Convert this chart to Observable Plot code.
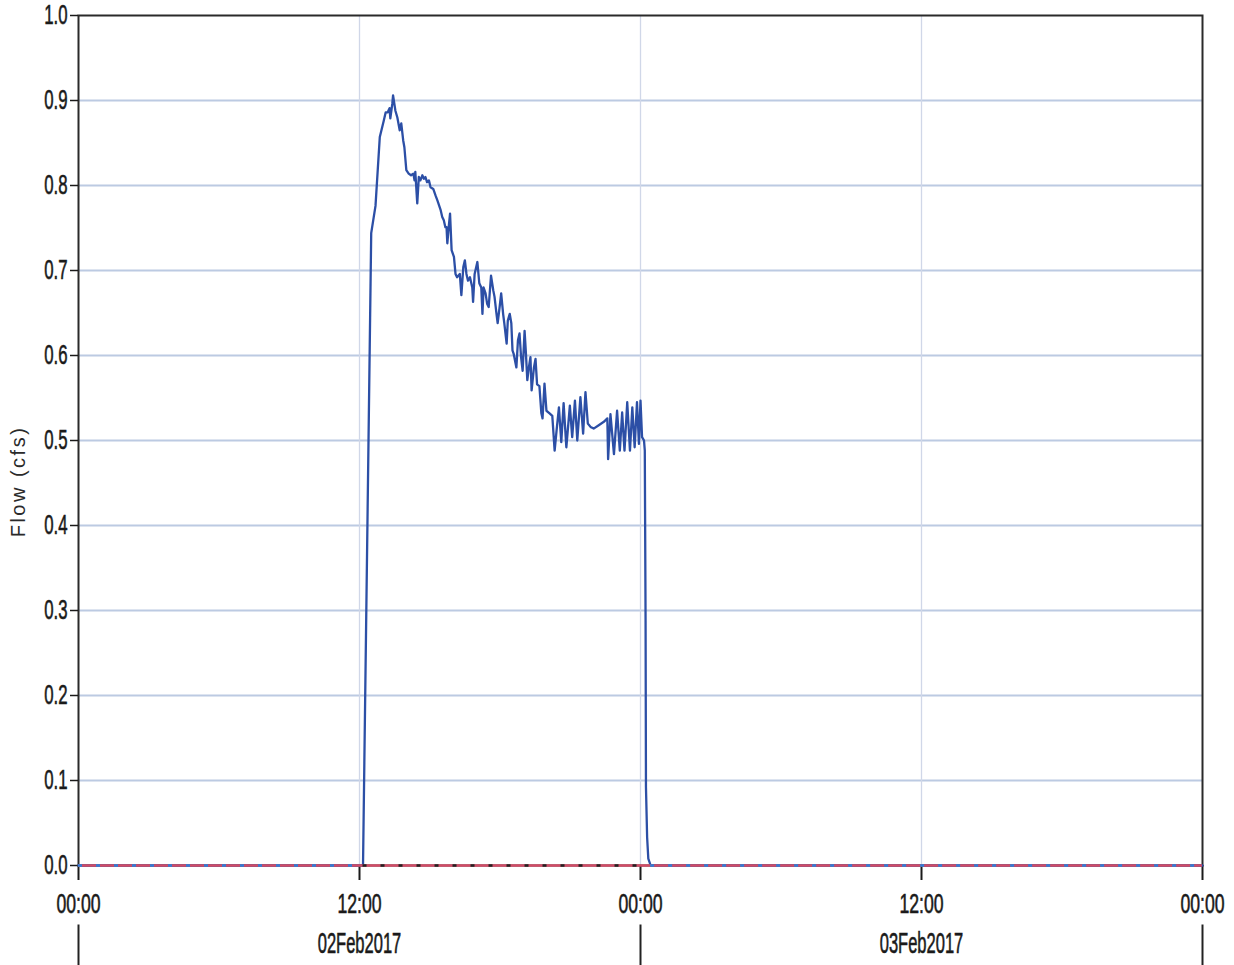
<!DOCTYPE html>
<html>
<head>
<meta charset="utf-8">
<script src="https://cdn.jsdelivr.net/npm/d3@7"></script>
<script src="https://cdn.jsdelivr.net/npm/@observablehq/plot@0.6"></script>
<style>
  body { margin: 0; background: #ffffff; }
  #chart svg { display: block; }
</style>
</head>
<body>
<div id="chart"></div>
<script>
// Time in minutes since 02Feb2017 00:00, flow in cfs
const flowMinutes = [
  0, 729, 750, 761, 772, 782, 787, 792, 797, 799,
  804, 806, 812, 817, 823, 827, 832, 835, 840, 846,
  852, 858, 861, 863, 868, 872, 876, 881, 885, 889,
  893, 898, 902, 909, 915, 920, 928, 932, 936, 940,
  943, 945, 949, 952, 956, 962, 966, 970, 977, 981,
  986, 990, 994, 998, 1003, 1009, 1011, 1015, 1022, 1027,
  1032, 1035, 1038, 1043, 1047, 1051, 1057, 1063, 1066, 1071,
  1074, 1079, 1083, 1088, 1091, 1097, 1100, 1105, 1109, 1112,
  1115, 1122, 1126, 1130, 1134, 1138, 1143, 1146, 1150, 1154,
  1158, 1161, 1167, 1171, 1175, 1181, 1186, 1189, 1194, 1199,
  1207, 1214, 1220, 1225, 1231, 1237, 1243, 1250, 1259, 1265,
  1272, 1278, 1286, 1293, 1299, 1305, 1312, 1320, 1333, 1346,
  1355, 1357, 1363, 1372, 1380, 1387, 1393, 1399, 1406, 1413,
  1419, 1425, 1431, 1436, 1440, 1444, 1449, 1451, 1453, 1454,
  1457, 1460, 1466, 2880
];
const flowValues = [
  0, 0, 0.744, 0.776, 0.857, 0.876, 0.886, 0.886, 0.891, 0.879,
  0.896, 0.906, 0.888, 0.880, 0.865, 0.873, 0.853, 0.845, 0.818, 0.814,
  0.812, 0.814, 0.806, 0.816, 0.779, 0.810, 0.806, 0.812, 0.808, 0.810,
  0.804, 0.806, 0.798, 0.796, 0.788, 0.782, 0.771, 0.763, 0.759, 0.751,
  0.751, 0.732, 0.753, 0.767, 0.724, 0.716, 0.696, 0.692, 0.696, 0.671,
  0.704, 0.712, 0.696, 0.688, 0.692, 0.680, 0.663, 0.696, 0.710, 0.685,
  0.680, 0.649, 0.680, 0.673, 0.661, 0.657, 0.694, 0.676, 0.669, 0.649,
  0.638, 0.657, 0.673, 0.649, 0.638, 0.614, 0.641, 0.649, 0.638, 0.606,
  0.602, 0.586, 0.618, 0.626, 0.598, 0.582, 0.629, 0.606, 0.571, 0.586,
  0.598, 0.559, 0.586, 0.596, 0.566, 0.564, 0.532, 0.526, 0.567, 0.535,
  0.532, 0.529, 0.488, 0.512, 0.539, 0.498, 0.544, 0.492, 0.541, 0.504,
  0.547, 0.500, 0.551, 0.508, 0.557, 0.520, 0.516, 0.514, 0.518, 0.522,
  0.526, 0.478, 0.531, 0.484, 0.535, 0.488, 0.533, 0.488, 0.545, 0.488,
  0.539, 0.492, 0.545, 0.496, 0.547, 0.504, 0.500, 0.488, 0.288, 0.092,
  0.033, 0.008, 0, 0
];

const yTicks = [0, 0.1, 0.2, 0.3, 0.4, 0.5, 0.6, 0.7, 0.8, 0.9, 1.0];
const xTickMinutes = [0, 720, 1440, 2160, 2880];
const xTickLabels = ["00:00", "12:00", "00:00", "12:00", "00:00"];
const dateMinutes = [720, 2160];
const dateLabels = ["02Feb2017", "03Feb2017"];
const dayBoundaries = [0, 1440, 2880];
const zeroSpanStart = [0, 1466];
const zeroSpanEnd = [729, 2880];
const eventSpanStart = [729];
const eventSpanEnd = [1466];
const yLabel = "Flow (cfs)";

const flow = flowMinutes.map((m, i) => ({m, v: flowValues[i]}));
const zeroSpans = zeroSpanStart.map((s, i) => ({x1: s, x2: zeroSpanEnd[i]}));
const eventSpans = eventSpanStart.map((s, i) => ({x1: s, x2: eventSpanEnd[i]}));
const dates = dateMinutes.map((m, i) => ({m, t: dateLabels[i]}));

const narrow = '"Liberation Sans Narrow", "Arial Narrow", "Liberation Sans", Arial, sans-serif';

const chart = Plot.plot({
  width: 1234,
  height: 965,
  marginLeft: 78,
  marginRight: 32,
  marginTop: 15,
  marginBottom: 100,
  style: {fontFamily: narrow, background: "#ffffff", overflow: "visible", color: "#1a1a1a"},
  x: {domain: [0, 2880]},
  y: {domain: [0, 1]},
  marks: [
    Plot.gridY(yTicks.slice(1, -1), {stroke: "#bccae2", strokeOpacity: 1, strokeWidth: 1.8}),
    Plot.gridX(xTickMinutes.slice(1, -1), {stroke: "#d0d7e8", strokeOpacity: 1, strokeWidth: 1.3}),
    Plot.frame({stroke: "#2a2a2a", strokeWidth: 2}),
    Plot.axisY(yTicks, {tickSize: 8, tickPadding: 3, strokeWidth: 1.5,
      tickFormat: d => d.toFixed(1), fontSize: 28, label: null}),
    Plot.axisX(xTickMinutes, {tickSize: 15, tickPadding: 13, strokeWidth: 2,
      tickFormat: d => xTickLabels[xTickMinutes.indexOf(d)], fontSize: 28, label: null}),
    Plot.line(flow, {x: "m", y: "v", stroke: "#2c4fa6", strokeWidth: 2.3}),
    Plot.ruleY([0], {stroke: "#d24b66", strokeWidth: 2.4}),
    Plot.ruleY(zeroSpans, {y: d => 0, x1: "x1", x2: "x2", stroke: "#2f7ed8",
      strokeWidth: 2.6, strokeDasharray: "4,14"}),
    Plot.ruleY(eventSpans, {y: d => 0, x1: "x1", x2: "x2", stroke: "#222222",
      strokeWidth: 2.6, strokeDasharray: "4,14"}),
    Plot.ruleX(dayBoundaries, {y1: -0.07, y2: -0.12, stroke: "#222222", strokeWidth: 2}),
    Plot.text(dates, {x: "m", text: "t", frameAnchor: "bottom", dy: 87,
      fontSize: 29, ariaLabel: "date label", fill: "#1a1a1a"}),
    Plot.text([yLabel], {text: d => d, frameAnchor: "left", textAnchor: "middle", dx: -60, dy: 41,
      rotate: -90, fontSize: 20, fontFamily: '"Liberation Sans", Arial, sans-serif',
      ariaLabel: "y label", fill: "#2a2a2a"})
  ]
});

function squeeze(t, s) {
  let tr = t.getAttribute("transform");
  if (!tr) {
    const x = t.getAttribute("x") || 0, y = t.getAttribute("y") || 0;
    t.removeAttribute("x"); t.removeAttribute("y");
    tr = `translate(${x},${y})`;
  }
  t.setAttribute("transform", tr + ` scale(${s},1)`);
  t.style.stroke = "#1a1a1a";
  t.style.strokeWidth = "0.6px";
}
chart.querySelectorAll("text").forEach(t => {
  const s = t.textContent;
  if (xTickLabels.includes(s)) squeeze(t, 0.63);
  else if (/^\d\.\d$/.test(s)) squeeze(t, 0.6);
  else if (dateLabels.includes(s)) squeeze(t, 0.57);
  else if (s === yLabel) t.style.letterSpacing = "2.5px";
});

document.getElementById("chart").appendChild(chart);
</script>
</body>
</html>
